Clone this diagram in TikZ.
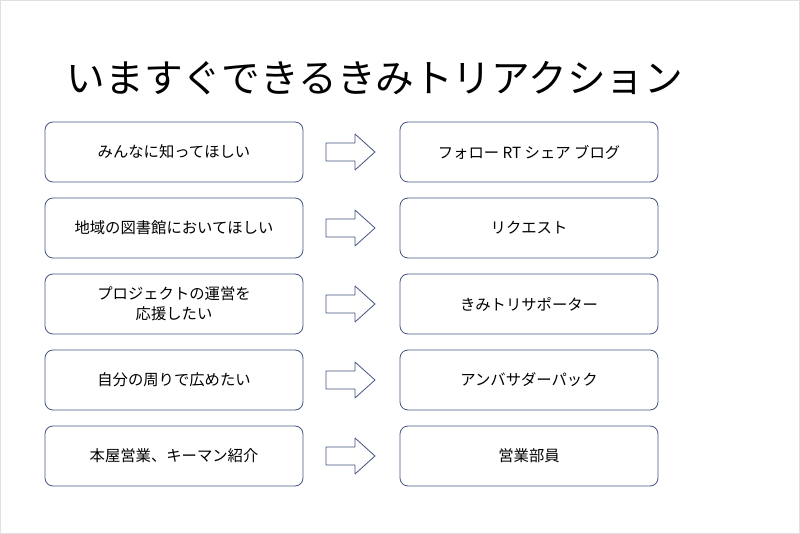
\documentclass[tikz,border=0pt]{standalone}
\usepackage{fontspec}
\setmainfont{Noto Sans CJK JP}
\definecolor{edge}{RGB}{68,84,130}
\tikzset{
  item/.style={draw=edge,line width=0.6pt,rounded corners=6pt,minimum width=193.5pt,minimum height=45pt,align=center,font=\fontsize{11.5}{15}\selectfont},
  goes/.style={draw=edge,line width=0.6pt,fill=white}
}
\begin{document}
\begin{tikzpicture}[x=0.75pt,y=-0.75pt,line cap=round,line join=round]
\useasboundingbox (0,0) rectangle (800,534);
\draw[black!12] (0.5,0.5) rectangle (799.5,533.5);
\node[anchor=west,font=\fontsize{29}{32}\selectfont] (title) at (62,78) {いますぐできるきみトリアクション};
\foreach \i/\l/\r in {0/みんなに知ってほしい/フォロー RT シェア ブログ,
  1/地域の図書館においてほしい/リクエスト,
  2/{プロジェクトの運営を\\応援したい}/きみトリサポーター,
  3/自分の周りで広めたい/アンバサダーパック,
  4/本屋営業、キーマン紹介/営業部員}{
  \node[item] (want\i) at (174,152+76*\i) {\l};
  \node[item] (act\i) at (529,152+76*\i) {\r};
  \coordinate (arrow\i) at (326,152+76*\i);
  \draw[goes] (arrow\i) ++(0,-9) -- ++(29,0) -- ++(0,-9) -- ++(20,18) -- ++(-20,18)
    -- ++(0,-9) -- ++(-29,0) -- cycle;
}
\end{tikzpicture}
\end{document}
